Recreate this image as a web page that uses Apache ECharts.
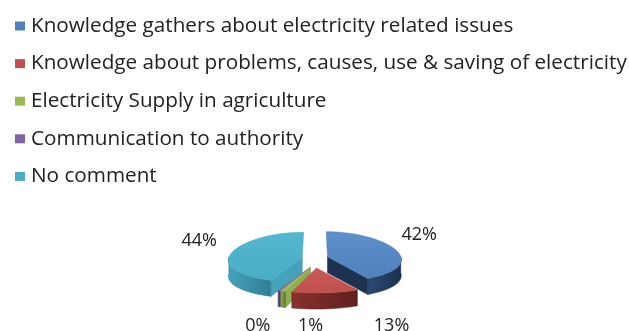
<!DOCTYPE html>
<html>
<head>
<meta charset="utf-8">
<style>
html,body{margin:0;padding:0;background:#fff;}
#chart{width:629px;height:331px;}
</style>
<script src="https://cdn.jsdelivr.net/npm/echarts@6/dist/echarts.min.js"></script>
</head>
<body>
<div id="chart"></div>
<script>
const categories = [
  'Knowledge gathers about electricity related issues',
  'Knowledge about problems, causes, use & saving of electricity',
  'Electricity Supply in agriculture',
  'Communication to authority',
  'No comment'
];
const values = [42, 13, 1, 0.4, 44];

const topColors = ['#4F81BD', '#C0504D', '#9BBB59', '#8064A2', '#4BACC6'];
const topLight  = ['#5E8FCB', '#C95A57', '#A6C565', '#8B70AD', '#55B6CF'];
const sideDark  = ['#1C324F', '#5E201E', '#5F7733', '#4E3A6A', '#2F7E93'];
const sideMid   = ['#2B4A72', '#8A302D', '#8FAE4F', '#67508A', '#45A2BB'];
// label nudges (layout only)
const labelNudge = [[-10,-10],[64,11],[34,14],[-14,15],[0,-7]];

const chart = echarts.init(document.getElementById('chart'));

function renderSlice(i) {
  return function (params, api) {
    const cx = 315, cy = 259, rx = 74, ry = 25, depth = 16, ex = 13, persp = 0.004;
    const total = values.reduce((s, v) => s + v, 0);
    let cum = 0;
    for (let j = 0; j < i; j++) cum += values[j];
    const v = api.value(0);
    const a0 = -90 + 360 * cum / total;
    const a1 = a0 + 360 * v / total;
    const rad = d => d * Math.PI / 180;
    const mid = (a0 + a1) / 2;
    const ox = ex * Math.cos(rad(mid));
    const oy = ex * Math.sin(rad(mid)) * 0.7;
    const zBase = Math.round((Math.sin(rad(mid)) + 1) * 500) * 10;
    const proj = (x, y, dz) => [cx + (x - cx) * (1 + persp * (y - cy)), y + dz];
    const pt = (a, dz) => proj(cx + ox + rx * Math.cos(rad(a)), cy + oy + ry * Math.sin(rad(a)), dz);
    const arc = (a, b, dz) => {
      const pts = [];
      const n = Math.max(2, Math.ceil(Math.abs(b - a) / 2));
      for (let k = 0; k <= n; k++) pts.push(pt(a + (b - a) * k / n, dz));
      return pts;
    };
    const c0 = proj(cx + ox, cy + oy, 0);
    const c1 = proj(cx + ox, cy + oy, depth);
    const children = [];
    // cut faces
    if (Math.cos(rad(a0)) < 0) {
      children.push({type: 'polygon', z2: zBase, shape: {points: [c0, pt(a0, 0), pt(a0, depth), c1]},
        style: {fill: sideMid[i], stroke: sideMid[i], lineWidth: 0.5}});
    }
    if (Math.cos(rad(a1)) > 0) {
      children.push({type: 'polygon', z2: zBase, shape: {points: [c0, pt(a1, 0), pt(a1, depth), c1]},
        style: {fill: sideDark[i], stroke: sideDark[i], lineWidth: 0.5}});
    }
    // outer wall (front)
    const s = Math.max(a0, 0), e = Math.min(a1, 180);
    if (e > s) {
      const pts = arc(s, e, 0).concat(arc(e, s, depth));
      children.push({type: 'polygon', z2: zBase + 1, shape: {points: pts},
        style: {
          fill: new echarts.graphic.LinearGradient(0, 0, 1, 0, [
            {offset: 0, color: sideMid[i]}, {offset: 1, color: sideDark[i]}
          ]),
          stroke: sideDark[i], lineWidth: 0.5
        }});
    }
    // top face
    children.push({type: 'polygon', z2: zBase + 2, shape: {points: [c0].concat(arc(a0, a1, 0))},
      style: {
        fill: new echarts.graphic.LinearGradient(0, 0, 0, 1, [
          {offset: 0, color: topLight[i]}, {offset: 1, color: topColors[i]}
        ]),
        stroke: topColors[i], lineWidth: 0.5
      }});
    // label
    const lrx = 118, lry = 56;
    const lx = cx + lrx * Math.cos(rad(mid)) + labelNudge[i][0];
    const ly = cy + lry * Math.sin(rad(mid)) + labelNudge[i][1];
    children.push({type: 'text', z2: 20000, x: lx, y: ly,
      style: {text: Math.round(v / total * 100) + '%', fill: '#222',
        font: '18px "Open Sans", sans-serif', align: 'center', verticalAlign: 'middle'}});
    return {type: 'group', children: children};
  };
}

const series = categories.map((name, i) => ({
  type: 'custom',
  name: name,
  coordinateSystem: 'none',
  data: [[values[i]]],
  renderItem: renderSlice(i),
  silent: true
}));

chart.setOption({
  animation: false,
  color: topColors,
  legend: {
    orient: 'vertical',
    left: 10,
    top: 10,
    icon: 'rect',
    itemWidth: 10,
    itemHeight: 9,
    itemGap: 15.6,
    selectedMode: false,
    data: categories,
    textStyle: {fontFamily: '"Open Sans", sans-serif', fontSize: 20.7, color: '#222', lineHeight: 22, padding: [0, 0, 0, 1]}
  },
  series: series
});
</script>
</body>
</html>
